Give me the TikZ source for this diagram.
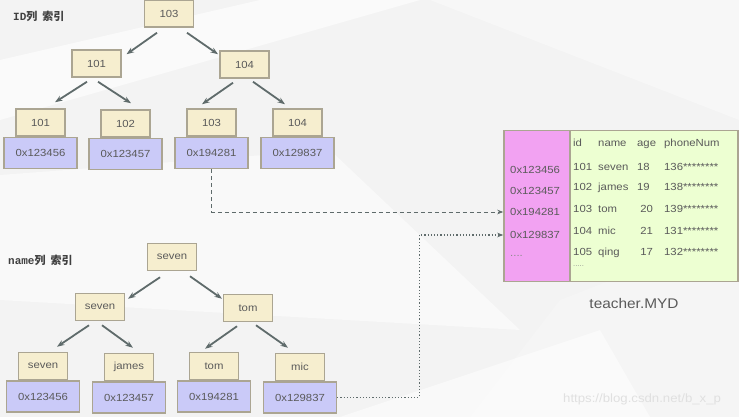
\documentclass[tikz,border=0pt]{standalone}
\usepackage{fontspec}
\setmainfont{Liberation Sans}[FakeStretch=1.1]
\newfontfamily\cjkfont{Noto Sans CJK SC}
\newfontfamily\monofont{Liberation Mono}
\usetikzlibrary{positioning,arrows.meta,calc}

\definecolor{keyfill}{HTML}{F6EECF}
\definecolor{ptrfill}{HTML}{CACAF8}
\definecolor{boxline}{HTML}{ABA592}
\definecolor{memfill}{HTML}{F2A2F2}
\definecolor{rowfill}{HTML}{EDFFD2}
\definecolor{arrowgray}{HTML}{5F6B6B}
\definecolor{textgray}{HTML}{5A5A5A}
\definecolor{bggray}{HTML}{F3F3F3}

% one line of the data file: id, name, age, phone
\newcommand{\tblrow}[4]{\makebox[25pt][l]{#1}\makebox[39pt][l]{#2}\makebox[27pt][l]{#3}#4}

\begin{document}
\begin{tikzpicture}[x=1pt,y=-1pt,>={Stealth[length=7.5pt,width=5.5pt]},font=\fontsize{10.3}{12}\selectfont,text=textgray]

    % Define node styles
    \tikzstyle{key_block} = [draw=boxline, line width=1.5pt, fill=keyfill, minimum width=49pt, minimum height=27pt, inner sep=0pt, text centered]
    \tikzstyle{ptr_block} = [draw=boxline, line width=1.5pt, fill=ptrfill, minimum width=73pt, minimum height=31pt, inner sep=0pt, text centered]
    \tikzstyle{mem_block} = [draw=boxline, line width=1.5pt, fill=memfill, minimum width=66pt, minimum height=151pt]
    \tikzstyle{row_block} = [draw=boxline, line width=1.5pt, fill=rowfill, minimum width=168pt, minimum height=151pt]
    \tikzstyle{cell} = [anchor=west, inner sep=0pt]
    \tikzstyle{title_text} = [anchor=west, inner sep=0pt, text=black!75, font=\fontsize{11}{13}\selectfont\bfseries]
    \tikzstyle{tree_arrow} = [->, arrowgray, line width=1.8pt]
    \tikzstyle{link_arrow} = [-{Stealth[length=6pt,width=4.5pt]}, arrowgray, line width=0.9pt]

    % Background
    \useasboundingbox (0,0) rectangle (739,417);
    \fill[bggray] (0,0) rectangle (739,417);
    \fill[white, opacity=0.6] (0,60) -- (260,0) -- (420,0) -- (0,120) -- cycle;
    \fill[white, opacity=0.5] (0,175) -- (330,150) -- (520,330) -- (0,300) -- cycle;
    \fill[black!3] (430,0) -- (739,0) -- (739,120) -- cycle;
    \fill[black!4] (560,300) -- (739,230) -- (739,417) -- (470,417) -- cycle;
    \fill[white, opacity=0.5] (340,417) -- (600,330) -- (650,417) -- cycle;

    % Titles
    \node[title_text] (id_title) at (13,16.5) {{\monofont ID}{\cjkfont 列\ \ 索引}};
    \node[title_text] (name_title) at (8,260) {{\monofont name}{\cjkfont 列\ \ 索引}};

    % Draw nodes: ID index
    \node [key_block] (id103) at (169,13.5) {103};
    \node [key_block] (id101) at (96.5,63.5) {101};
    \node [key_block] (id104) at (244.5,64.5) {104};
    \node [key_block] (idleaf101) at (40.5,122.5) {101};
    \node [key_block] (idleaf102) at (125.5,123.5) {102};
    \node [key_block] (idleaf103) at (211.5,122.5) {103};
    \node [key_block] (idleaf104) at (297.5,122.5) {104};
    \node [ptr_block, below=0pt of idleaf101] (idptr101) {0x123456};
    \node [ptr_block, below=0pt of idleaf102] (idptr102) {0x123457};
    \node [ptr_block, below=0pt of idleaf103] (idptr103) {0x194281};
    \node [ptr_block, below=0pt of idleaf104] (idptr104) {0x129837};

    % Draw nodes: name index
    \node [key_block] (nm_seven) at (172,257) {seven};
    \node [key_block] (nm_seven2) at (100,307) {seven};
    \node [key_block] (nm_tom) at (248,308) {tom};
    \node [key_block] (nmleaf_seven) at (43,366) {seven};
    \node [key_block] (nmleaf_james) at (129,367) {james};
    \node [key_block] (nmleaf_tom) at (214,366) {tom};
    \node [key_block] (nmleaf_mic) at (300,367) {mic};
    \node [ptr_block, below=0pt of nmleaf_seven] (nmptr_seven) {0x123456};
    \node [ptr_block, below=0pt of nmleaf_james] (nmptr_james) {0x123457};
    \node [ptr_block, below=0pt of nmleaf_tom] (nmptr_tom) {0x194281};
    \node [ptr_block, below=0pt of nmleaf_mic] (nmptr_mic) {0x129837};

    % Draw nodes: data file
    \node [mem_block] (mem) at (537,206) {};
    \node [row_block] (rows) at (654,206) {};
    \node [cell] (addr1) at (510,170) {0x123456};
    \node [cell] (addr2) at (510,191) {0x123457};
    \node [cell] (addr3) at (510,212) {0x194281};
    \node [cell] (addr4) at (510,235) {0x129837};
    \node [cell, text=textgray!70] (addr5) at (510,256) {....};
    \node [cell] (row0) at (573,144) {\tblrow{id}{name}{age}{phoneNum}};
    \node [cell] (row1) at (573,167) {\tblrow{101}{seven}{18}{136********}};
    \node [cell] (row2) at (573,188) {\tblrow{102}{james}{19}{138********}};
    \node [cell] (row3) at (573,209) {\tblrow{103}{tom}{\ 20}{139********}};
    \node [cell] (row4) at (573,231) {\tblrow{104}{mic}{\ 21}{131********}};
    \node [cell] (row5) at (573,253) {\tblrow{105}{qing}{\ 17}{132********}};
    \node [cell, text=textgray!70, font=\fontsize{7}{8}\selectfont] (row6) at (573,266) {.....};
    \node [font=\fontsize{14}{16}\selectfont] (myd) at (634,303) {teacher.MYD};
    \node [cell, text=white!88!black, font=\fontsize{12}{14}\selectfont] (watermark) at (563,399) {https://blog.csdn.net/b\_x\_p};

    % Draw arrows
    \draw [tree_arrow] ($(id103.south)+(-12,5)$) -- ($(id101.north)+(30,5)$);
    \draw [tree_arrow] ($(id103.south)+(18,5)$) -- ($(id104.north)+(-26.5,4)$);
    \draw [tree_arrow] ($(id101.south)+(-9.5,4)$) -- ($(idleaf101.north)+(14.5,-6)$);
    \draw [tree_arrow] ($(id101.south)+(1.5,4)$) -- ($(idleaf102.north)+(5.5,-6)$);
    \draw [tree_arrow] ($(id104.south)+(-11.5,4)$) -- ($(idleaf103.north)+(-9.5,-4)$);
    \draw [tree_arrow] ($(id104.south)+(8.5,3)$) -- ($(idleaf104.north)+(-12.5,-4)$);

    \draw [tree_arrow] ($(nm_seven.south)+(-12,6)$) -- ($(nm_seven2.north)+(28,6)$);
    \draw [tree_arrow] ($(nm_seven.south)+(18,5)$) -- ($(nm_tom.north)+(-26,5)$);
    \draw [tree_arrow] ($(nm_seven2.south)+(-11,4)$) -- ($(nmleaf_seven.north)+(14,-5)$);
    \draw [tree_arrow] ($(nm_seven2.south)+(2,4)$) -- ($(nmleaf_james.north)+(4,-5)$);
    \draw [tree_arrow] ($(nm_tom.south)+(-11,4)$) -- ($(nmleaf_tom.north)+(-9,-3)$);
    \draw [tree_arrow] ($(nm_tom.south)+(8,3)$) -- ($(nmleaf_mic.north)+(-12,-5)$);

    \draw [link_arrow, dash pattern=on 4pt off 3pt] (idptr103.south) |- (addr3.west -| mem.west);
    \draw [link_arrow, line width=1.2pt, dash pattern=on 1.2pt off 2pt] (nmptr_mic.east) -- ++(82,0) |- (addr4.west -| mem.west);

\end{tikzpicture}
\end{document}
